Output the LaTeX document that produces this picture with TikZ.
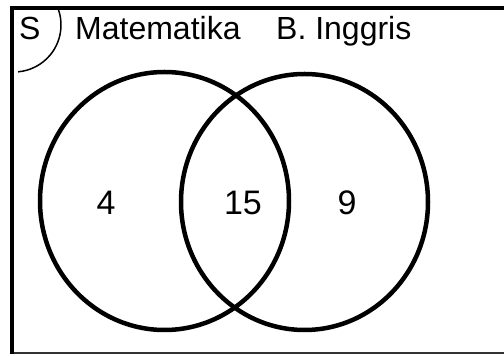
\documentclass[tikz,border=0pt]{standalone}
\usepackage{fontspec}
\setmainfont{Liberation Sans}
\begin{document}
\begin{tikzpicture}[x=1pt,y=1pt,
  setline/.style={line width=4.5pt, black},
  framethick/.style={line width=4pt, black},
  framethin/.style={line width=2pt, black!80},
  lbl/.style={inner sep=0pt, anchor=base west, font=\fontsize{32}{36}\selectfont},
  num/.style={inner sep=0pt, anchor=base, font=\fontsize{34}{38}\selectfont}]
\useasboundingbox (0,0) rectangle (504,356);
% frame
\coordinate (tl) at (12,348);
\coordinate (tr) at (506,348);
\coordinate (bl) at (12,3);
\coordinate (br) at (506,3);
\draw[framethin] (bl) -- (br);
\draw[framethick] (tr) -- (tl) -- ([yshift=-1pt]bl);
% S corner arc
\coordinate (sc) at (14,331);
\draw[line width=1.5pt] ([shift={(20:47)}]sc) arc[start angle=20, end angle=-85, radius=47];
% circles
\draw[setline] (164.5,155) ellipse[x radius=124.5, y radius=129];
\draw[setline] (304.5,154) ellipse[x radius=123.5, y radius=128];
% labels
\node[lbl] (S) at (19,316) {S};
\node[lbl] (M) at (75,316) {Matematika};
\node[lbl] (B) at (276,316) {B. Inggris};
\node[num] (n4) at (106,141) {4};
\node[num] (n15) at (243,141) {15};
\node[num] (n9) at (347,141) {9};
\end{tikzpicture}
\end{document}
